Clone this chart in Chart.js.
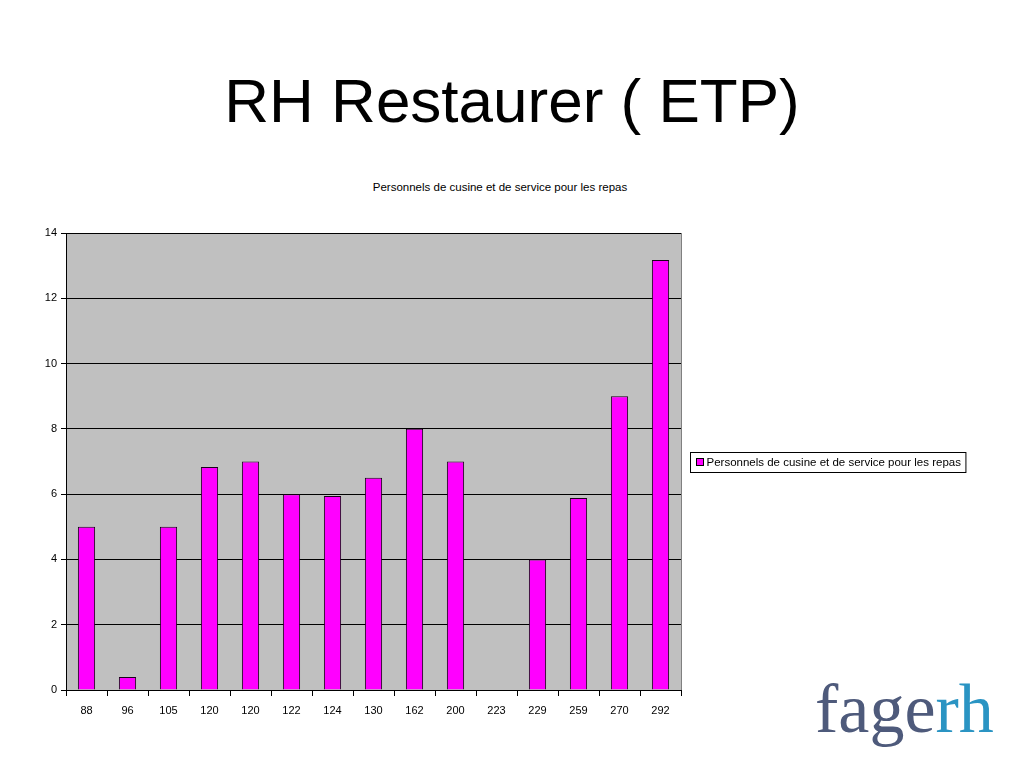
<!DOCTYPE html>
<html>
<head>
<meta charset="utf-8">
<script src="https://cdn.jsdelivr.net/npm/chart.js@4/dist/chart.umd.min.js"></script>
<style>
  html, body { margin: 0; padding: 0; background: #fff; }
  #page { position: relative; width: 1024px; height: 768px; overflow: hidden; }
  #title {
    position: absolute; left: 0; top: 70px; width: 1024px;
    text-align: center; font: 62px/62px "Liberation Sans", Arial, sans-serif; color: #000;
  }
  #subtitle {
    position: absolute; left: 0; top: 180px; width: 1000px;
    text-align: center; font: 11.5px/14px "Liberation Sans Narrow", "Liberation Sans", Arial, sans-serif; color: #000;
  }
  #chart-wrap { position: absolute; left: 0; top: 0; width: 1024px; height: 768px; }
  #logo {
    position: absolute; left: 815px; top: 669px;
    font: 70px/80px "Liberation Serif", "DejaVu Serif", serif;
  }
  #logo .a { color: #4e5a7b; }
  #logo .b { color: #2a94c3; }
</style>
</head>
<body>
<div id="page">
  <div id="title">RH Restaurer ( ETP)</div>
  <div id="subtitle">Personnels de cusine et de service pour les repas</div>
  <div id="chart-wrap"><canvas id="rh-chart"></canvas></div>
  <div id="logo"><span class="a">fage</span><span class="b">rh</span></div>
</div>
<script>
// ---- data ----
const seriesLabel = 'Personnels de cusine et de service pour les repas';
const repas = ['88', '96', '105', '120', '120', '122', '124', '130', '162', '200', '223', '229', '259', '270', '292'];
const etp = [5, 0.4, 5, 6.83, 7, 6, 5.94, 6.5, 8, 7, 0, 4, 5.88, 9, 13.17];
const yTicks = [0, 2, 4, 6, 8, 10, 12, 14];

const narrow = '"Liberation Sans Narrow", "Liberation Sans", Arial, sans-serif';

// gray plot background + gray right border
const plotBg = {
    id: 'plotBg',
    beforeDraw(chart) {
        const { ctx, chartArea: a } = chart;
        ctx.save();
        ctx.fillStyle = '#c0c0c0';
        ctx.fillRect(a.left, a.top, a.right - a.left, a.bottom - a.top);
        ctx.restore();
    },
    afterDraw(chart) {
        const { ctx, chartArea: a } = chart;
        ctx.save();
        ctx.strokeStyle = '#808080';
        ctx.lineWidth = 1;
        ctx.beginPath();
        ctx.moveTo(a.right + 0.5, a.top);
        ctx.lineTo(a.right + 0.5, a.bottom);
        ctx.stroke();
        ctx.restore();
    }
};

// boxed legend to the right of the plot
const boxLegend = {
    id: 'boxLegend',
    afterDraw(chart) {
        const { ctx, chartArea: a } = chart;
        const ds = chart.data.datasets[0];
        const x = a.right + 9.5;
        const cy = (a.top + a.bottom) / 2;
        ctx.save();
        ctx.font = '11.5px ' + narrow;
        const tw = ctx.measureText(ds.label).width;
        const w = tw + 21;
        const h = 20;
        const y = Math.round(cy - h / 2) + 0.5;
        ctx.fillStyle = '#fff';
        ctx.fillRect(x, y, w, h);
        ctx.strokeStyle = '#000';
        ctx.lineWidth = 1;
        ctx.strokeRect(x, y, w, h);
        ctx.fillStyle = ds.backgroundColor;
        ctx.fillRect(x + 6, y + 6, 7, 7);
        ctx.strokeRect(x + 6, y + 6, 7, 7);
        ctx.fillStyle = '#000';
        ctx.textBaseline = 'middle';
        ctx.fillText(ds.label, x + 16, y + h / 2);
        ctx.restore();
    }
};

new Chart(document.getElementById('rh-chart'), {
    type: 'bar',
    data: {
        labels: repas,
        datasets: [{
            label: seriesLabel,
            data: etp,
            backgroundColor: '#ff00ff',
            borderColor: '#1a001a',
            borderWidth: 1,
            borderSkipped: 'bottom',
            barPercentage: 0.42,
            categoryPercentage: 1
        }]
    },
    options: {
        responsive: true,
        maintainAspectRatio: false,
        animation: false,
        layout: { padding: { top: 233, left: 0, right: 343, bottom: 38 } },
        plugins: { legend: { display: false }, tooltip: { enabled: false }, title: { display: false } },
        scales: {
            x: {
                grid: { display: true, offset: true, drawOnChartArea: false, drawTicks: true, tickLength: 6, color: '#000' },
                border: { color: '#000' },
                ticks: { color: '#000', padding: 8, font: { family: narrow, size: 11 }, maxRotation: 0, autoSkip: false },
                afterFit(scale) { scale.height = 40; }
            },
            y: {
                min: 0,
                max: 14,
                afterBuildTicks(scale) { scale.ticks = yTicks.map(v => ({ value: v })); },
                grid: { color: '#000', tickLength: 5, drawTicks: true },
                border: { color: '#000' },
                ticks: { color: '#000', padding: 4, font: { family: narrow, size: 11 } },
                afterFit(scale) { scale.width = 66; }
            }
        }
    },
    plugins: [plotBg, boxLegend]
});
</script>
</body>
</html>
